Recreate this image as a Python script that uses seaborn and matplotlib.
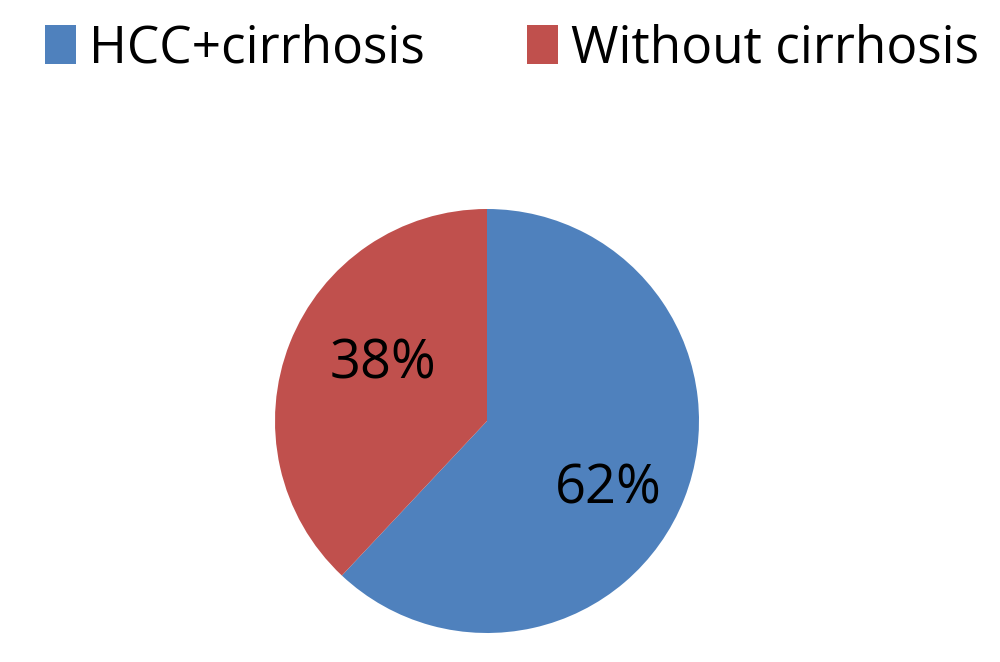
import matplotlib
matplotlib.use("Agg")
import matplotlib.pyplot as plt
import seaborn as sns
from matplotlib.patches import Patch

categories = ["HCC+cirrhosis", "Without cirrhosis"]
values = [62, 38]
colors = ["#4F81BD", "#C0504D"]
label_pos = [(0.57, -0.32), (-0.49, 0.27)]

sns.set_theme(style="white")
plt.rcParams['font.family'] = ['Open Sans', 'DejaVu Sans']

fig = plt.figure(figsize=(10, 6.62), dpi=100)
r_px = 212
cx, cy = 487, 421
ax = fig.add_axes([(cx - r_px * 1.02) / 1000, (662 - cy - r_px * 1.02) / 662,
                   2 * r_px * 1.02 / 1000, 2 * r_px * 1.02 / 662])
ax.pie(values, colors=colors, startangle=90, counterclock=False,
       wedgeprops=dict(linewidth=0))
ax.set_xlim(-1.02, 1.02)
ax.set_ylim(-1.02, 1.02)
ax.set_aspect('equal')
ax.axis('off')
for v, (x, y) in zip(values, label_pos):
    ax.text(x, y, f"{v}%", ha='center', va='center', fontsize=39, color='black')

handles = [Patch(facecolor=c, edgecolor='none') for c in colors]
leg = fig.legend(handles, categories, loc='upper center', bbox_to_anchor=(0.512, 1.035),
                 ncol=2, frameon=False, fontsize=37, handlelength=0.6, handleheight=0.8,
                 handletextpad=0.25, columnspacing=2.0)
for t in leg.get_texts():
    t.set_color('black')

fig.savefig("out.png", dpi=100, facecolor='white')
